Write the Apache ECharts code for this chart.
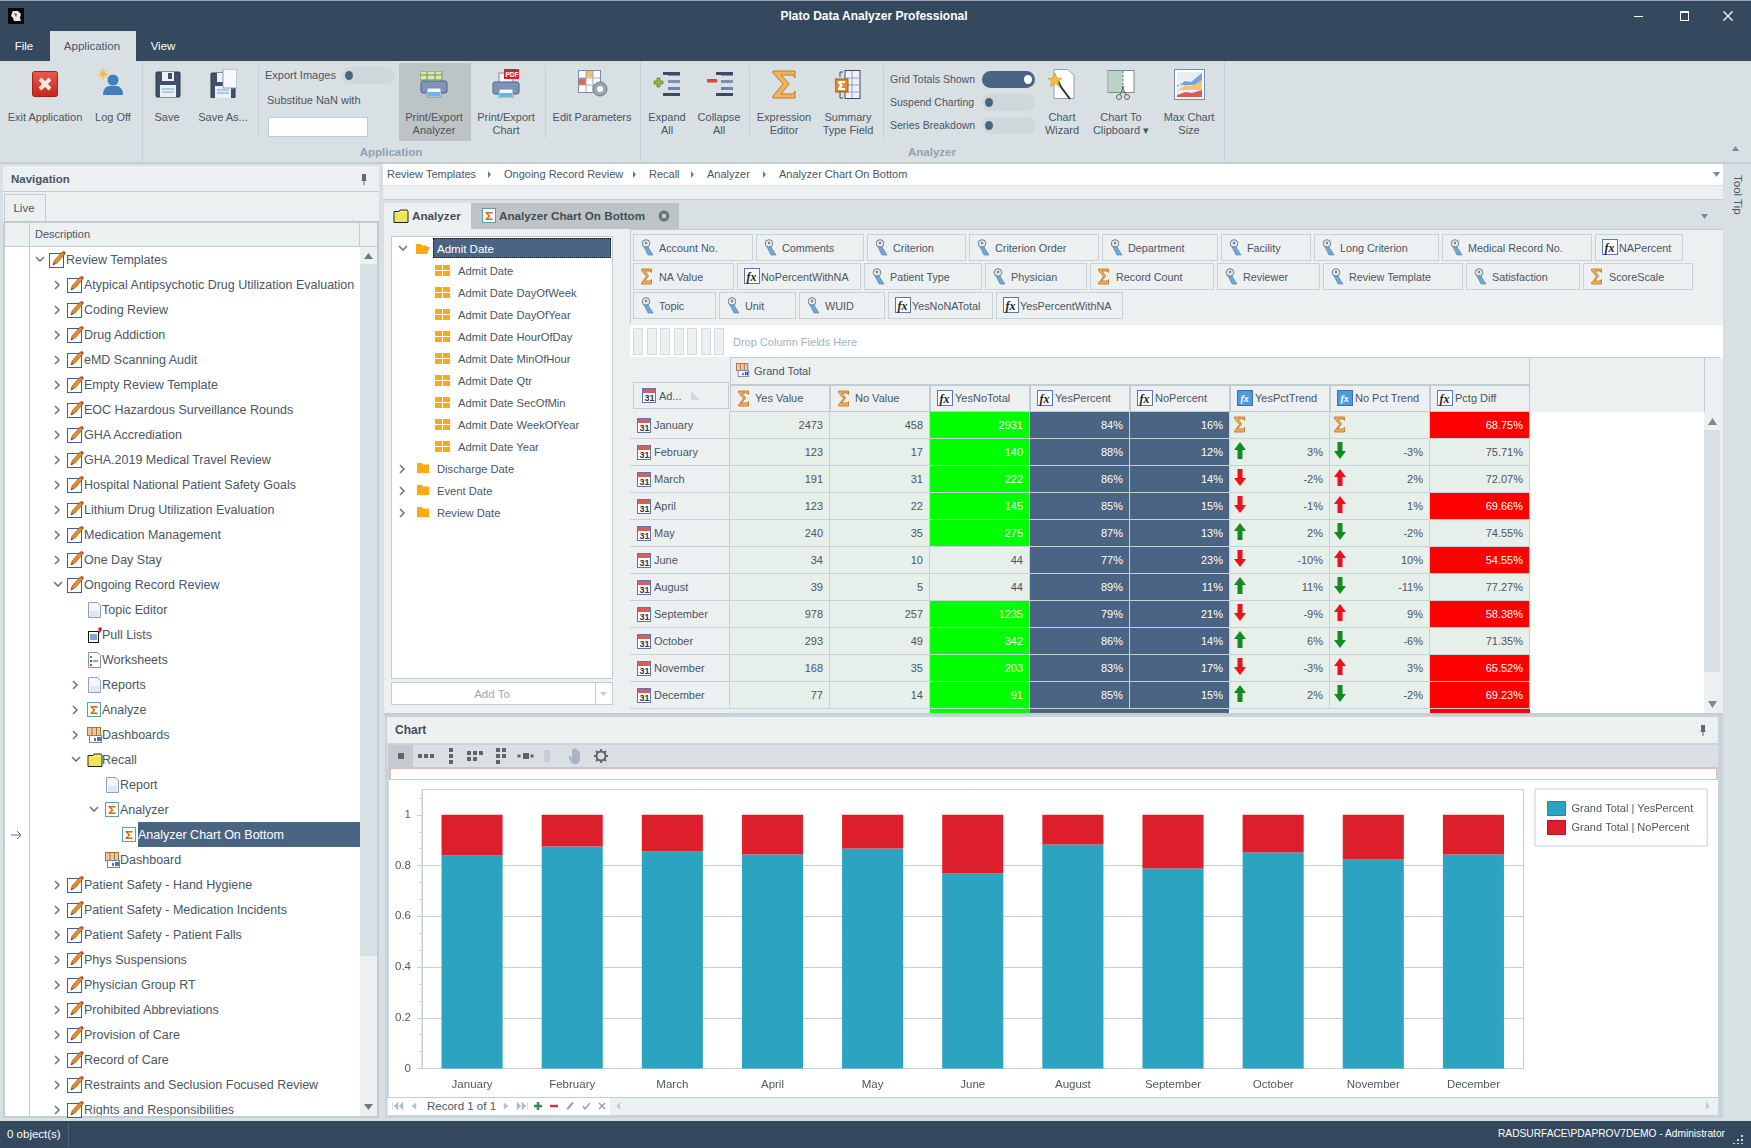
<!DOCTYPE html>
<html>
<head>
<meta charset="utf-8">
<title>Plato Data Analyzer Professional</title>
<script src="https://cdn.jsdelivr.net/npm/echarts@6/dist/echarts.min.js"></script>
<style>
    html, body { margin: 0; padding: 0; background: #d8e0e3; }
    #page { position: relative; width: 1751px; height: 1148px; overflow: hidden; background: #d8e0e3;
        font-family: "Liberation Sans", Arial, sans-serif; font-size: 11px; color: #4a5662; }
    svg { display: block; }
</style>
</head>
<body>
<div id="page"></div>
<script>
// 图表数据
const months = ['January', 'February', 'March', 'April', 'May', 'June', 'August', 'September', 'October', 'November', 'December'];
const yesShare = [0.84, 0.875, 0.856, 0.844, 0.867, 0.769, 0.883, 0.789, 0.852, 0.824, 0.844];
const noShare = [0.16, 0.125, 0.144, 0.156, 0.133, 0.231, 0.117, 0.211, 0.148, 0.176, 0.156];
const yLabelTicks = [0, 0.2, 0.4, 0.6, 0.8, 1];
const yMinorTicks = [0.0667, 0.1333, 0.2667, 0.3333, 0.4667, 0.5333, 0.6667, 0.7333, 0.8667, 0.9333, 1.0667];
const legendNames = ['Grand Total | YesPercent', 'Grand Total | NoPercent'];

// 表格数据
const yesValue = [2473, 123, 191, 123, 240, 34, 39, 978, 293, 168, 77];
const noValue = [458, 17, 31, 22, 35, 10, 5, 257, 49, 35, 14];
const yesNoTotal = [2931, 140, 222, 145, 275, 44, 44, 1235, 342, 203, 91];
const yesPercent = ['84%', '88%', '86%', '85%', '87%', '77%', '89%', '79%', '86%', '83%', '85%'];
const noPercent = ['16%', '12%', '14%', '15%', '13%', '23%', '11%', '21%', '14%', '17%', '15%'];
const yesTrend = [null, 3, -2, -1, 2, -10, 11, -9, 6, -3, 2];
const noTrend = [null, -3, 2, 1, -2, 10, -11, 9, -6, 3, -2];
const pctgDiff = [68.75, 75.71, 72.07, 69.66, 74.55, 54.55, 77.27, 58.38, 71.35, 65.52, 69.23];
const columnTitles = ['Yes Value', 'No Value', 'YesNoTotal', 'YesPercent', 'NoPercent', 'YesPctTrend', 'No Pct Trend', 'Pctg Diff'];
const columnIcons = ['sum', 'sum', 'fx', 'fx', 'fx', 'fxb', 'fxb', 'fx'];

// 字段按钮
const fieldNames = [
    ['Account No.', 'Comments', 'Criterion', 'Criterion Order', 'Department', 'Facility', 'Long Criterion', 'Medical Record No.', 'NAPercent'],
    ['NA Value', 'NoPercentWithNA', 'Patient Type', 'Physician', 'Record Count', 'Reviewer', 'Review Template', 'Satisfaction', 'ScoreScale'],
    ['Topic', 'Unit', 'WUID', 'YesNoNATotal', 'YesPercentWithNA']
];
const fieldKinds = [
    ['key', 'key', 'key', 'key', 'key', 'key', 'key', 'key', 'fx'],
    ['sum', 'fx', 'key', 'key', 'sum', 'key', 'key', 'key', 'sum'],
    ['key', 'key', 'key', 'fx', 'fx']
];

// 左侧导航树：[层级, 展开状态, 图标, 名称]
const treeRows = [
    [0, 'open', 'note', 'Review Templates'],
    [1, 'shut', 'note', 'Atypical Antipsychotic Drug Utilization Evaluation'],
    [1, 'shut', 'note', 'Coding Review'],
    [1, 'shut', 'note', 'Drug Addiction'],
    [1, 'shut', 'note', 'eMD Scanning Audit'],
    [1, 'shut', 'note', 'Empty Review Template'],
    [1, 'shut', 'note', 'EOC Hazardous Surveillance Rounds'],
    [1, 'shut', 'note', 'GHA Accrediation'],
    [1, 'shut', 'note', 'GHA.2019 Medical Travel Review'],
    [1, 'shut', 'note', 'Hospital National Patient Safety Goals'],
    [1, 'shut', 'note', 'Lithium Drug Utilization Evaluation'],
    [1, 'shut', 'note', 'Medication Management'],
    [1, 'shut', 'note', 'One Day Stay'],
    [1, 'open', 'note', 'Ongoing Record Review'],
    [2, '', 'page', 'Topic Editor'],
    [2, '', 'pull', 'Pull Lists'],
    [2, '', 'sheet', 'Worksheets'],
    [2, 'shut', 'page', 'Reports'],
    [2, 'shut', 'sigma', 'Analyze'],
    [2, 'shut', 'dash', 'Dashboards'],
    [2, 'open', 'folder', 'Recall'],
    [3, '', 'page', 'Report'],
    [3, 'open', 'sigma', 'Analyzer'],
    [4, '', 'sigma', 'Analyzer Chart On Bottom'],
    [3, '', 'dash', 'Dashboard'],
    [1, 'shut', 'note', 'Patient Safety - Hand Hygiene'],
    [1, 'shut', 'note', 'Patient Safety - Medication Incidents'],
    [1, 'shut', 'note', 'Patient Safety - Patient Falls'],
    [1, 'shut', 'note', 'Phys Suspensions'],
    [1, 'shut', 'note', 'Physician Group RT'],
    [1, 'shut', 'note', 'Prohibited Abbreviations'],
    [1, 'shut', 'note', 'Provision of Care'],
    [1, 'shut', 'note', 'Record of Care'],
    [1, 'shut', 'note', 'Restraints and Seclusion Focused Review'],
    [1, 'shut', 'note', 'Rights and Responsibilities']
];
const dateFields = ['Admit Date', 'Admit Date DayOfWeek', 'Admit Date DayOfYear', 'Admit Date HourOfDay', 'Admit Date MinOfHour', 'Admit Date Qtr', 'Admit Date SecOfMin', 'Admit Date WeekOfYear', 'Admit Date Year'];
const otherDates = ['Discharge Date', 'Event Date', 'Review Date'];
const breadcrumbs = ['Review Templates', 'Ongoing Record Review', 'Recall', 'Analyzer', 'Analyzer Chart On Bottom'];

// 颜色
const DARK = '#35495e', PANEL = '#ecf0f1', EDGE = '#bfccd1', STEEL = '#4a6583', TEXT = '#4a5662';

const page = document.getElementById('page');

function box(x, y, w, h, style, html) {
    const d = document.createElement('div');
    d.style.cssText = 'position:absolute;box-sizing:border-box;left:' + x + 'px;top:' + y + 'px;width:' + w + 'px;height:' + h + 'px;' + (style || '');
    if (html) d.innerHTML = html;
    page.appendChild(d);
    return d;
}

// 左对齐文字，cy 为垂直中心
function text(x, cy, str, style) {
    return box(x, cy - 10, 400, 20, 'line-height:20px;white-space:nowrap;' + (style || ''), str);
}

// 居中文字
function mid(cx, cy, str, style) {
    return box(cx - 200, cy - 10, 400, 20, 'line-height:20px;white-space:nowrap;text-align:center;' + (style || ''), str);
}

// 右对齐文字，r 为右边界
function right(r, cy, str, style) {
    return box(r - 400, cy - 10, 400, 20, 'line-height:20px;white-space:nowrap;text-align:right;' + (style || ''), str);
}

function svg(x, y, w, h, body, vw, vh) {
    return box(x, y, w, h, '', '<svg width="' + w + '" height="' + h + '" viewBox="0 0 ' + (vw || w) + ' ' + (vh || h) + '">' + body + '</svg>');
}

// 小图标
const icons = {
    note: '<rect x=".5" y="2.5" width="14" height="14" fill="#fff" stroke="#3d5f96"/><path d="M4 14l1-4 8-9 3 2-8 9z" fill="#ee8a1e" stroke="#5a3a20" stroke-width=".5"/><path d="M13 1l3 2 1-1-2-2z" fill="#c8352f"/><path d="M4 14l1-2 1 1z" fill="#222"/>',
    page: '<path d="M1.5 .5h9l3 3v12h-12z" fill="#f5f6fa" stroke="#8d9cc4"/><path d="M3 9h9v6H3z" fill="#e3e6ec"/>',
    pull: '<rect x="1.5" y="4.5" width="10" height="11" fill="#fff" stroke="#111"/><path d="M3 8h7M3 10h7M3 12h7" stroke="#1c3fb0"/><path d="M11 5l2-4 2 1-2 4z" fill="#d3232a"/><circle cx="13" cy="2" r="1.8" fill="#e01b24"/>',
    sheet: '<path d="M1.5 .5h9l3 3v12h-12z" fill="#fff" stroke="#7f90bd"/><rect x="3" y="4" width="2" height="2" fill="#3a9a3a"/><rect x="3" y="8" width="2" height="2" fill="#2b5fd0"/><rect x="3" y="12" width="2" height="2" fill="#d03a3a"/><path d="M6 9h5" stroke="#445"/>',
    sigma: '<rect x=".5" y=".5" width="13" height="14" fill="#f7f8fa" stroke="#5fa0a8"/><path d="M3.5 4h7v1.5H6l2.5 2.5L6 10.500h4.500V12h-7V11l3-3-3-3z" fill="#d8690f"/>',
    dash: '<rect x=".5" y=".5" width="13" height="8" fill="#f5c79a" stroke="#a5712f"/><path d="M5 .5v8M9.500 .5v8" stroke="#a5712f"/><rect x="2.500" y="8.500" width="12" height="7" fill="#fff" stroke="#6d83b8"/><path d="M8 14v-3M11 14V10M13 14v-4" stroke="#1c3fb0" stroke-width="1.500"/>',
    folder: '<path d="M1 14.500V3.500h5l1-1.500h7l1 1.500v11z" fill="#f6ee6a" stroke="#222"/><path d="M2 5h12v9H2z" fill="#e8e05a" opacity=".7"/>',
    sum: '<path d="M1.500 1h10v3.500l-1.500-1.500H5l3.500 5-4 5H10l1.500-1.500V16h-10v-1l5-6.500-5-6z" fill="#eeb25f" stroke="#c36a16" stroke-width=".8"/>',
    fx: '<rect x=".5" y=".5" width="15" height="15" fill="#fff" stroke="#5b76b5"/><text x="2.500" y="12.500" font-family="Liberation Serif" font-style="italic" font-weight="700" font-size="12" fill="#222">fx</text>',
    fxb: '<rect x=".5" y=".5" width="15" height="15" fill="#4f9bd6" stroke="#3d6fb0"/><text x="3.500" y="12" font-family="Liberation Serif" font-style="italic" font-weight="700" font-size="10" fill="#fff">fx</text>',
    key: '<circle cx="6" cy="4.500" r="3.800" fill="#e4e8ec" stroke="#6f7f8d"/><circle cx="6" cy="4" r="1.200" fill="#6f7f8d"/><path d="M4 8h4l5 8h-5z" fill="#6fa7d8" stroke="#5b7c9e" stroke-width=".6"/>',
    cal: '<rect x=".5" y=".5" width="13" height="14" fill="#fff" stroke="#5b76b5"/><rect x="1" y="1" width="12" height="4" fill="#d85f56"/><text x="2.500" y="13" font-size="9" font-weight="700" font-family="Liberation Sans" fill="#334">31</text>',
    grid: '<path d="M0 0h7v5H0zM8 0h7v5H8zM0 6h7v5H0zM8 6h7v5H8z" fill="#fba919"/>',
    fold: '<path d="M0 11V1h5l1 1.500h6V11z" fill="#fba919"/>',
    foldOpen: '<path d="M0 11V1h5l1 1.500h5V4H3L0 11h11l3-7H3" fill="#fba919"/>',
    up: '<path d="M7 0l6 8H9.500v9h-5V8H1z" fill="#138a22"/>',
    down: '<path d="M4.500 0h5v9H13l-6 8-6-8h3.500z" fill="#138a22"/>',
    upRed: '<path d="M7 0l6 8H9.500v9h-5V8H1z" fill="#e8131b"/>',
    downRed: '<path d="M4.500 0h5v9H13l-6 8-6-8h3.500z" fill="#e8131b"/>'
};

function icon(x, y, name, w, h) {
    const iconSize = { grid: [15, 11], fold: [12, 12], foldOpen: [14, 12], up: [14, 17], down: [14, 17], upRed: [14, 17], downRed: [14, 17], note: [17, 17], sum: [13, 17], key: [15, 17] }[name] || [16, 16];
    svg(x, y, w || iconSize[0], h || iconSize[1], icons[name], iconSize[0], iconSize[1]);
}

function arrow(cx, cy, state) {
    const shape = state === 'open'
        ? '<path d="M1 2l4 4 4-4" fill="none" stroke="#6f7a80" stroke-width="1.600"/>'
        : '<path d="M2 1l4 4-4 4" fill="none" stroke="#6f7a80" stroke-width="1.600"/>';
    svg(cx - 5, cy - 5, 10, 10, shape);
}

// 标题栏
box(0, 0, 1751, 61, 'background:' + DARK);
box(0, 0, 1751, 1, 'background:#9aa6b8');
svg(8, 8, 16, 16, '<rect width="16" height="16" fill="#000"/><path d="M5 3h5l3 3-1 4 1 3H6l-1-3-2-2 1-3z" fill="#e8e8e8"/><path d="M6 5l3 1-1 3z" fill="#555"/>');
mid(874, 16, 'Plato Data Analyzer Professional', 'color:#fff;font-weight:700;font-size:12px');
box(1634, 16, 9, 1, 'background:#fff');
box(1680, 11, 9, 10, 'border:1px solid #fff;border-top-width:2px');
svg(1723, 11, 10, 10, '<path d="M.5 .5l9 9M9.500 .5l-9 9" stroke="#fff" stroke-width="1.300"/>');

// 菜单页签
box(50, 31, 86, 30, 'background:#d8e0e3');
mid(24, 46, 'File', 'color:#fff;font-size:11.500px');
mid(92, 46, 'Application', 'color:#4a5662;font-size:11.500px');
mid(163, 46, 'View', 'color:#fff;font-size:11.500px');

// 功能区分隔线与分组名称
box(0, 162, 1751, 2, 'background:#c3ced3');
[142, 640, 1224].forEach(function (x) { box(x, 61, 1, 101, 'background:#c6d1d5'); });
[258, 545, 749, 883].forEach(function (x) { box(x, 65, 1, 74, 'background:#c6d1d5'); });
mid(391, 152, 'Application', 'color:#8fa2b3;font-weight:700;font-size:11.500px');
mid(932, 152, 'Analyzer', 'color:#8fa2b3;font-weight:700;font-size:11.500px');
box(399, 63, 72, 78, 'background:#bcc4c6');

function ribbonLabel(cx, first, second) {
    mid(cx, 117, first, 'font-size:11px');
    if (second) mid(cx, 130, second, 'font-size:11px');
}
ribbonLabel(45, 'Exit Application');
ribbonLabel(113, 'Log Off');
ribbonLabel(167, 'Save');
ribbonLabel(223, 'Save As...');
ribbonLabel(434, 'Print/Export', 'Analyzer');
ribbonLabel(506, 'Print/Export', 'Chart');
ribbonLabel(592, 'Edit Parameters');
ribbonLabel(667, 'Expand', 'All');
ribbonLabel(719, 'Collapse', 'All');
ribbonLabel(784, 'Expression', 'Editor');
ribbonLabel(848, 'Summary', 'Type Field');
ribbonLabel(1062, 'Chart', 'Wizard');
ribbonLabel(1121, 'Chart To', 'Clipboard \u25be');
ribbonLabel(1189, 'Max Chart', 'Size');

// 功能区图标
const floppy = '<rect x="1" y="1" width="24" height="25" rx="1" fill="#3f5068" stroke="#2b3950"/><rect x="7" y="1" width="12" height="9" fill="#eef1f6"/><rect x="13" y="2" width="4" height="6" fill="#3f5068"/><rect x="5" y="14" width="16" height="12" fill="#e8f0f8"/><path d="M7 18h12M7 21h12" stroke="#6da7d8"/>';
const printer = '<rect x="7" y="1" width="14" height="10" fill="#f5f6fa" stroke="#7a8aa8"/><rect x="1" y="10" width="26" height="12" rx="2" fill="#7f93b8" stroke="#4f6186"/><rect x="7" y="17" width="14" height="9" fill="#f4f7fb" stroke="#7a8aa8"/><rect x="8" y="21" width="12" height="4" fill="#69b5e6"/>';
const lines = '<path d="M15 2h12v3H15zM15 9h12v3H15z" fill="#7f90b8"/><path d="M15 16h12v3H15z" fill="#6f82aa"/><path d="M10 22h17v3H10z" fill="#3c4a66"/><path d="M10 1h17v3H10z" fill="#3c4a66"/>';
svg(32, 71, 26, 26, '<defs><linearGradient id="rg" x1="0" y1="0" x2="0" y2="1"><stop offset="0" stop-color="#ea5a4a"/><stop offset="1" stop-color="#c5281f"/></linearGradient></defs><rect x=".5" y=".5" width="25" height="25" rx="2" fill="url(#rg)" stroke="#a5211a"/><path d="M8 8l10 10M18 8L8 18" stroke="#f7e8e4" stroke-width="4"/>');
svg(98, 68, 26, 28, '<circle cx="5" cy="6" r="2.500" fill="#f6b73c"/><path d="M5 0v12M-1 6h12M1 2l8 8M9 2l-8 8" stroke="#f6b73c"/><circle cx="15" cy="12" r="5.500" fill="#3f7fc0"/><path d="M5 27c0-8 5-9 7-9h6c2 0 7 1 7 9z" fill="#3f7fc0"/>');
svg(155, 71, 26, 27, floppy);
svg(210, 69, 27, 29, '<g transform="translate(0,3)">' + floppy + '</g><rect x="13" y="0" width="14" height="19" fill="#f6f8fc" stroke="#8d9cb8"/>');
svg(420, 71, 28, 28, printer + '<rect x="0" y="0" width="22" height="9" fill="#e9e3a9" stroke="#5aa05a"/><path d="M7 0v9M15 0v9M0 4h22" stroke="#5aa05a"/>');
svg(492, 69, 28, 29, '<g transform="translate(0,3)">' + printer + '</g><rect x="12" y="0" width="15" height="10" fill="#d3232a"/><text x="13.500" y="8" font-size="6.500" font-weight="700" fill="#fff" font-family="Liberation Sans">PDF</text>');
svg(578, 70, 31, 28, '<rect x=".5" y=".5" width="22" height="22" fill="#fff" stroke="#7a8aa8"/><rect x="8" y="1" width="7" height="6" fill="#f2c260"/><rect x="1" y="8" width="7" height="7" fill="#e2685c"/><path d="M8 .5v22M15 .5v22M.5 8h22M.5 15h22" stroke="#9aa6bd"/><circle cx="22" cy="19" r="7" fill="#9aa6b4" stroke="#6c7784"/><circle cx="22" cy="19" r="3" fill="#fff"/>');
svg(653, 71, 28, 27, '<path d="M4 7h3v3h3v3H7v3H4v-3H1v-3h3z" fill="#8ebb3c" stroke="#5d7f20" stroke-width=".7"/>' + lines);
svg(706, 71, 28, 27, '<rect x="1" y="8" width="10" height="3.500" fill="#e0433a"/>' + lines);
svg(771, 70, 27, 29, '<path d="M2 1h22v7l-2-3H10l8 9-8 10h12l2-3v7H2v-2l10-12L2 3z" fill="#f0b45c" stroke="#c9761b"/>');
svg(835, 70, 26, 29, '<rect x="10" y=".5" width="15" height="28" fill="#eef1fa" stroke="#3c4a66"/><path d="M10 8h15M10 15h15M10 22h15M17 1v27" stroke="#8d9cc4"/><rect x="0" y="9" width="13" height="13" fill="#e08a2a" stroke="#a55f12"/><path d="M3 11h7v2H6l2 2-2 3h4v2H3v-2l2-3-2-2z" fill="#fff"/><path d="M8 2H5v5M8 28H5v-6" fill="none" stroke="#3c4a66"/>');
svg(1048, 69, 27, 31, '<path d="M6 .5h14l6 6v23H6z" fill="#fff" stroke="#8d9cb8"/><path d="M10 12l3 6 9 12" stroke="#333" stroke-width="2" fill="none"/><path d="M7 4l2 5 5 .5-4 3 1.500 5-4.500-3-4.500 3L4 12.500 0 9.500 5 9z" fill="#f6c228" stroke="#d58a10" stroke-width=".6"/>');
svg(1107, 70, 28, 31, '<rect x="1" y=".5" width="26" height="22" fill="#fff" stroke="#7a8a8e"/><rect x="2" y="1" width="14" height="21" fill="#b9d3c5"/><path d="M16 1v21" stroke="#4d8a6a" stroke-dasharray="2 2"/><circle cx="12" cy="27" r="2.500" fill="none" stroke="#666"/><circle cx="20" cy="27" r="2.500" fill="none" stroke="#666"/><path d="M13 25l4-9M19 25l-4-9" stroke="#666"/>');
svg(1174, 69, 31, 31, '<rect x=".5" y=".5" width="30" height="30" fill="#fff" stroke="#7a8aa8"/><rect x="3" y="3" width="25" height="25" fill="#e8eef6"/><path d="M3 18l8-6 6 1 11-9v12H3z" fill="#6ea7e0"/><path d="M3 22l8-6 7 1 10-6v10H3z" fill="#f2c477"/><path d="M3 26l9-3 6 1 10-3v7H3z" fill="#d95a52"/>');

// 功能区开关
function toggle(x, y, on) {
    box(x, y, 53, 17, 'border-radius:9px;background:' + (on ? STEEL : '#cfd7db'));
    box(on ? x + 42 : x + 3, y + 4, 8, 9, 'border-radius:50%;background:' + (on ? '#fff' : STEEL));
}
text(265, 75, 'Export Images', 'font-size:11px');
toggle(342, 67, false);
text(267, 100, 'Substitue NaN with', 'font-size:11px');
box(268, 117, 100, 20, 'background:#fff;border:1px solid #bfccd1');
text(890, 79, 'Grid Totals Shown', 'font-size:10.500px');
toggle(982, 71, true);
text(890, 102, 'Suspend Charting', 'font-size:10.500px');
toggle(982, 94, false);
text(890, 125, 'Series Breakdown', 'font-size:10.500px');
toggle(982, 117, false);
svg(1731, 145, 9, 7, '<path d="M4.500 1L8 6H1z" fill="#7d8a90"/>');

// 导航面板
box(3, 166, 376, 26, 'background:' + PANEL + ';border-bottom:1px solid ' + EDGE);
text(11, 179, 'Navigation', 'font-weight:700;font-size:11.500px');
svg(360, 173, 8, 12, '<path d="M2 1h4v6l1 1H1l1-1zM3.500 8h1v4h-1z" fill="#667"/>');
box(3, 192, 376, 30, 'background:' + PANEL);
box(4, 194, 42, 28, 'background:' + PANEL + ';border:1px solid ' + EDGE + ';border-bottom:none');
mid(24, 208, 'Live', 'font-size:11.500px');
box(4, 221, 375, 2, 'background:' + EDGE);
box(5, 223, 372, 24, 'background:' + PANEL + ';border-bottom:1px solid ' + EDGE);
box(29, 223, 1, 24, 'background:' + EDGE);
box(359, 223, 1, 24, 'background:' + EDGE);
text(35, 234, 'Description', 'font-size:11px');
box(5, 247, 372, 869, 'background:#fff');
box(29, 247, 1, 869, 'background:' + EDGE);
box(360, 247, 17, 869, 'background:' + PANEL);
box(360, 264, 17, 692, 'background:#d8e0e3');
svg(363, 252, 11, 8, '<path d="M5.500 1L10 7H1z" fill="#6f7a80"/>');
svg(363, 1103, 11, 8, '<path d="M5.500 7L10 1H1z" fill="#6f7a80"/>');
box(377, 222, 2, 896, 'background:#c3ced3');
box(3, 222, 2, 896, 'background:#c3ced3');
box(3, 1116, 376, 2, 'background:#c3ced3');

const iconLeft = [49, 67, 87, 105, 122];
const textLeft = [66, 84, 102, 120, 138];
const arrowLeft = [40, 58, 76, 94];
treeRows.forEach(function (row, i) {
    const cy = 259.5 + 25 * i;
    const level = row[0];
    if (row[3] === 'Analyzer Chart On Bottom') {
        box(138, cy - 12.5, 222, 25, 'background:' + STEEL);
        svg(11, cy - 5, 11, 10, '<path d="M0 5h10M6 1l4 4-4 4" fill="none" stroke="#5b7390"/>');
    }
    if (row[1]) arrow(arrowLeft[level], cy + 0.5, row[1]);
    const nudge = row[2] === 'note' ? 9 : 8;
    icon(iconLeft[level], cy - nudge, row[2]);
    const selected = row[3] === 'Analyzer Chart On Bottom';
    const rowEl = text(textLeft[level], cy, row[3], 'font-size:12.500px;color:' + (selected ? '#fff' : TEXT));
    if (cy > 1100) rowEl.style.clipPath = 'inset(0 0 4px 0)';
});

// 面包屑
box(383, 164, 1340, 21, 'background:#fff');
box(383, 186, 1340, 14, 'background:' + PANEL + ';border-bottom:1px solid ' + EDGE);
const crumbX = [387, 504, 649, 707, 779];
breadcrumbs.forEach(function (name, i) {
    text(crumbX[i], 174, name, 'font-size:11px');
    if (i < 4) svg(crumbX[i + 1] - 17, 171, 5, 7, '<path d="M1 0l3 3.500L1 7z" fill="#6f7a80"/>');
});
svg(1713, 172, 7, 5, '<path d="M0 0h7L3.500 5z" fill="#7d8a90"/>');
box(1731, 175, 14, 48, 'writing-mode:vertical-rl;font-size:11.500px;line-height:14px;white-space:nowrap', 'Tool Tip');

// 分析器页签
box(384, 203, 87, 26, 'background:' + PANEL);
box(471, 203, 208, 26, 'background:#bcc4c6');
icon(393, 208, 'folder');
text(412, 216, 'Analyzer', 'font-weight:700;font-size:11.700px;color:#444e58');
icon(482, 208, 'sigma');
text(499, 216, 'Analyzer Chart On Bottom', 'font-weight:700;font-size:11.700px;color:#444e58');
svg(658, 210, 12, 12, '<circle cx="6" cy="6" r="5.500" fill="#6b7478"/><path d="M4 4l4 4M8 4l-4 4" stroke="#e6e9ea" stroke-width="1.200"/>');
svg(1701, 214, 7, 5, '<path d="M0 0h7L3.500 5z" fill="#7d8a90"/>');

// 分析器面板底色
box(384, 229, 1339, 485, 'background:' + PANEL);
box(384, 713, 1339, 2, 'background:#c3ced3');

// 字段列表
box(391, 236, 222, 443, 'background:#fff;border:1px solid ' + EDGE);
box(433, 238, 178, 20, 'background:' + STEEL + ';outline:1px dotted #111;outline-offset:-1px');
arrow(403, 249, 'open');
icon(416, 243, 'foldOpen');
text(437, 249, 'Admit Date', 'font-size:11.500px;color:#fff');
dateFields.forEach(function (name, i) {
    const cy = 271 + 22 * i;
    icon(435, cy - 6, 'grid');
    text(458, cy, name, 'font-size:11.200px');
});
otherDates.forEach(function (name, i) {
    const cy = 469 + 22 * i;
    arrow(403, cy, 'shut');
    icon(417, cy - 7, 'fold');
    text(437, cy, name, 'font-size:11.200px');
});
box(391, 682, 222, 23, 'background:#fff;border:1px solid ' + EDGE);
box(595, 682, 1, 23, 'background:' + EDGE);
mid(492, 694, 'Add To', 'font-size:11.500px;color:#9aa8b3');
svg(600, 692, 7, 4, '<path d="M0 0h7L3.500 4z" fill="#c6ced2"/>');

// 字段按钮
const fieldEdges = [
    [633, 756, 867, 969, 1102, 1221, 1314, 1442, 1595, 1683],
    [633, 737, 864, 985, 1090, 1217, 1323, 1466, 1583, 1693],
    [633, 719, 799, 888, 996, 1123]
];
box(630, 229, 1093, 95, 'background:' + PANEL + ';border-top:1px solid ' + EDGE + ';border-left:1px solid ' + EDGE);
fieldNames.forEach(function (row, r) {
    const top = 234 + 29 * r;
    row.forEach(function (name, i) {
        const x = fieldEdges[r][i], w = fieldEdges[r][i + 1] - x - 3;
        box(x, top, i === row.length - 1 ? w + 3 : w, 27, 'background:' + PANEL + ';border:1px solid #c6d2d6');
        const kind = fieldKinds[r][i];
        icon(x + 7, top + 5, kind);
        text(x + (kind === 'fx' ? 24 : 26), top + 14, name, 'font-size:10.800px');
    });
});

// 列字段区
box(630, 325, 1093, 32, 'background:#fff');
for (let i = 0; i < 7; i++) box(633 + i * 13.5, 328, 10, 27, 'background:' + PANEL + ';border:1px solid #d3dcdf');
text(733, 342, 'Drop Column Fields Here', 'font-size:11px;color:#9fb2c0');

// 表头
box(730, 357, 800, 28, 'background:' + PANEL + ';border:1px solid ' + EDGE);
box(1530, 357, 190, 55, 'background:' + PANEL + ';border-top:1px solid ' + EDGE);
box(1704, 357, 1, 55, 'background:' + EDGE);
icon(736, 363, 'dash', 14, 14);
text(754, 371, 'Grand Total', 'font-size:11px');
box(633, 382, 96, 27, 'background:' + PANEL + ';border:1px solid ' + EDGE);
icon(642, 388, 'cal');
text(659, 396, 'Ad...', 'font-size:11px');
svg(690, 392, 10, 8, '<path d="M1 1h2M1 3h4M1 5h6M1 7h8" stroke="#b8c2c8"/>');
columnTitles.forEach(function (name, i) {
    const x = 730 + 100 * i;
    box(x, 385, 100, 27, 'background:' + PANEL + ';border:1px solid ' + EDGE);
    icon(x + 7, 390, columnIcons[i]);
    text(x + 25, 397.5, name, 'font-size:11px');
});

// 表格内容
box(630, 412, 1074, 301, 'background:#fff');
box(630, 412, 100, 301, 'background:' + PANEL);
function cell(x, y, w, bg, value, color) {
    box(x, y, w, 27, 'background:' + bg + ';border-right:1px solid #c6d2d6;border-bottom:1px solid #c6d2d6');
    if (value !== '') right(x + w - 7, y + 13, String(value), 'font-size:11px;color:' + (color || TEXT));
}
months.forEach(function (name, i) {
    const y = 412 + 27 * i;
    const soft = '#e7efea';
    box(630, y, 100, 27, 'background:' + PANEL + ';border-bottom:1px solid #c6d2d6;border-right:1px solid #c6d2d6');
    icon(637, y + 6, 'cal');
    text(654, y + 13, name, 'font-size:11px');
    cell(730, y, 100, soft, yesValue[i]);
    cell(830, y, 100, soft, noValue[i]);
    const hot = yesNoTotal[i] > 50;
    cell(930, y, 100, hot ? '#00ff00' : soft, yesNoTotal[i], hot ? '#fff' : TEXT);
    cell(1030, y, 100, STEEL, yesPercent[i], '#fff');
    cell(1130, y, 100, STEEL, noPercent[i], '#fff');
    cell(1230, y, 100, soft, yesTrend[i] === null ? '' : yesTrend[i] + '%');
    cell(1330, y, 100, soft, noTrend[i] === null ? '' : noTrend[i] + '%');
    const low = pctgDiff[i] < 70;
    cell(1430, y, 100, low ? '#ff0000' : soft, pctgDiff[i].toFixed(2) + '%', low ? '#fff' : TEXT);
    if (yesTrend[i] === null) {
        icon(1233, y + 4, 'sum');
        icon(1333, y + 4, 'sum');
    } else {
        icon(1233, y + 3, yesTrend[i] > 0 ? 'up' : 'downRed');
        icon(1333, y + 3, noTrend[i] > 0 ? 'upRed' : 'down');
    }
});
// 底部露出的一行
box(730, 709, 200, 4, 'background:#e7efea');
box(930, 709, 100, 4, 'background:#00ff00');
box(1030, 709, 199, 4, 'background:' + STEEL);
box(1230, 709, 200, 4, 'background:#e7efea');
box(1430, 709, 100, 4, 'background:#ff0000');
box(1704, 412, 16, 301, 'background:' + PANEL);
box(1704, 430, 16, 242, 'background:#d8e0e3');
svg(1708, 418, 9, 7, '<path d="M4.500 0L9 7H0z" fill="#7d8a90"/>');
svg(1708, 701, 9, 7, '<path d="M4.500 7L9 0H0z" fill="#7d8a90"/>');

// 图表面板
box(385, 715, 1338, 403, 'background:#c9d4d8');
box(387, 717, 1331, 26, 'background:' + PANEL);
text(395, 730, 'Chart', 'font-weight:700;font-size:12px;color:#444e58');
svg(1699, 724, 8, 12, '<path d="M2 1h4v6l1 1H1l1-1zM3.500 8h1v4h-1z" fill="#667"/>');
box(387, 745, 1331, 22, 'background:#d8e0e3');
box(388, 745, 25, 22, 'background:#c3cbce');

// 图表工具栏小方块，dots 为 [dx, dy, 边长]
function dots(cx, list, color) {
    let body = '';
    list.forEach(function (d) {
        body += '<rect x="' + (10 + d[0] - d[2] / 2) + '" y="' + (12 + d[1] - d[2] / 2) + '" width="' + d[2] + '" height="' + d[2] + '" fill="' + (color || '#5f6468') + '"/>';
    });
    svg(cx - 10, 744, 20, 24, body);
}
dots(401, [[0, 0, 6]]);
dots(426, [[-6, 0, 4], [0, 0, 4], [6, 0, 4]]);
dots(451, [[0, -6, 4], [0, 0, 4], [0, 6, 4]]);
dots(475, [[-6, -3, 4], [0, -3, 4], [6, -3, 4], [-6, 3, 4], [0, 3, 4]]);
dots(501, [[-3, -6, 4], [3, -6, 4], [-3, 0, 4], [3, 0, 4], [-3, 6, 4]]);
dots(526, [[-7, 0, 3], [0, 0, 6], [6, 0, 3]]);
box(544, 750, 6, 12, 'background:#c6cfd4');
svg(568, 747, 16, 18, '<path d="M5 17c-2-2-5-6-4-8 1-1 2 1 3 2V3c0-1 2-1 2 0v5V2c0-1 2-1 2 0v6V3c0-1 2-1 2 0v5V5c0-1 2-1 2 0v7c0 3-2 5-3 5z" fill="#aab5c2"/>');
svg(594, 749, 14, 14, '<circle cx="7" cy="7" r="4.500" fill="none" stroke="#5f6468" stroke-width="2"/><path d="M7 0v3M7 11v3M0 7h3M11 7h3M2 2l2 2M10 10l2 2M12 2l-2 2M4 10l-2 2" stroke="#5f6468" stroke-width="1.800"/>');
box(389, 767, 1328, 13, 'background:#fff;border:1px solid #bfccd1;border-top:2px solid #e0bcb8;border-left:2px solid #e0bcb8;border-right-color:#e0bcb8');

// 图表记录导航
box(387, 1097, 1331, 18, 'background:' + PANEL + ';border-top:1px solid ' + EDGE);
box(389, 1098, 221, 17, 'background:#fff');
text(427, 1106, 'Record 1 of 1', 'font-size:11.500px');
svg(392, 1101, 230, 10,
    '<path d="M.5 1v8M6 1L2 5l4 4zM11 1L7 5l4 4zM24 2l-4 3 4 3z" fill="#b6bfc4" stroke="#b6bfc4" stroke-width=".5"/>' +
    '<path d="M112 2l4 3-4 3zM125 1l4 4-4 4zM130 1l4 4-4 4zM135.500 1v8" fill="#b6bfc4" stroke="#b6bfc4" stroke-width=".5"/>' +
    '<path d="M146 1v8M142 5h8" stroke="#2f8f4f" stroke-width="2.500"/><path d="M158 5h8" stroke="#e0303a" stroke-width="2.500"/>' +
    '<path d="M174 9l1-2 5-6 2 1-5 6z" fill="#9aa3a8"/><path d="M191 5l2 3 5-6" fill="none" stroke="#9aa3a8" stroke-width="1.500"/>' +
    '<path d="M207 2l6 6M213 2l-6 6" stroke="#9aa3a8" stroke-width="1.500"/>' +
    '<path d="M228 1l-4 4 4 4z" fill="#c3ccd0"/>');
svg(1705, 1101, 6, 10, '<path d="M1 1l4 4-4 4z" fill="#c3ccd0"/>');

// 状态栏
box(0, 1121, 1751, 27, 'background:' + DARK);
text(7, 1134, '0 object(s)', 'color:#fff;font-size:11.500px');
box(68, 1123, 1, 23, 'background:#4f6378');
right(1725, 1134, 'RADSURFACE\\PDAPROV7DEMO - Administrator', 'color:#fff;font-size:10.200px');
svg(1733, 1134, 10, 10, '<path d="M8 1h2v2H8zM4 5h2v2H4zM8 5h2v2H8zM0 9h2v1H0zM4 9h2v1H4zM8 9h2v1H8z" fill="#c9d4d8"/>');

// 图表
const chartDom = box(389, 780, 1329, 317, 'background:#fff');
const chart = echarts.init(chartDom);
const axisColor = '#c2d0d5';
const labelStyle = { color: '#4d5864', fontSize: 11.5, fontFamily: '"Liberation Sans", Arial, sans-serif' };
chart.setOption({
    animation: false,
    grid: { left: 33, top: 9.5, width: 1101.5, height: 279, show: true, borderColor: axisColor, borderWidth: 1, backgroundColor: '#fff' },
    legend: {
        orient: 'vertical',
        left: 1146,
        top: 9,
        padding: [12, 14, 11, 12],
        itemWidth: 18,
        itemHeight: 14,
        itemGap: 4,
        icon: 'rect',
        borderColor: axisColor,
        borderWidth: 1,
        backgroundColor: '#fff',
        data: [
            { name: legendNames[0], itemStyle: { borderColor: '#1f88a4', borderWidth: 1 } },
            { name: legendNames[1], itemStyle: { borderColor: '#b81620', borderWidth: 1 } }
        ],
        textStyle: { color: '#4d5864', fontSize: 11, fontFamily: labelStyle.fontFamily, padding: [0, 0, 0, 1] }
    },
    xAxis: [
        {
            type: 'category',
            data: months,
            axisLine: { lineStyle: { color: axisColor } },
            axisTick: { alignWithLabel: true, length: 5, lineStyle: { color: axisColor } },
            axisLabel: Object.assign({ margin: 10, interval: 0 }, labelStyle)
        },
        {
            // 次刻度：每类目 5 格
            type: 'category',
            position: 'bottom',
            data: months.flatMap(function () { return ['', '', '', '', '']; }),
            axisLine: { show: false },
            axisTick: { alignWithLabel: true, interval: 0, length: 2.5, lineStyle: { color: axisColor } },
            axisLabel: { show: false }
        }
    ],
    yAxis: [
        {
            type: 'value',
            min: 0,
            max: 1.1,
            interval: 0.2,
            axisLine: { show: true, lineStyle: { color: axisColor } },
            axisTick: { show: true, length: 5, customValues: yLabelTicks, lineStyle: { color: axisColor } },
            axisLabel: Object.assign({ margin: 11, customValues: yLabelTicks, formatter: function (v) { return String(v); } }, labelStyle),
            splitLine: { show: true, showMaxLine: false, lineStyle: { color: axisColor } }
        },
        {
            type: 'value',
            position: 'left',
            min: 0,
            max: 1.1,
            axisLine: { show: false },
            axisTick: { show: true, length: 2.5, customValues: yMinorTicks, lineStyle: { color: axisColor } },
            axisLabel: { show: false },
            splitLine: { show: false }
        }
    ],
    series: [
        { name: legendNames[0], type: 'bar', stack: 'total', barWidth: '61%', data: yesShare, itemStyle: { color: '#2ca3c1' } },
        { name: legendNames[1], type: 'bar', stack: 'total', barWidth: '61%', data: noShare, itemStyle: { color: '#dc1f2a' } }
    ]
});
</script>
</body>
</html>
